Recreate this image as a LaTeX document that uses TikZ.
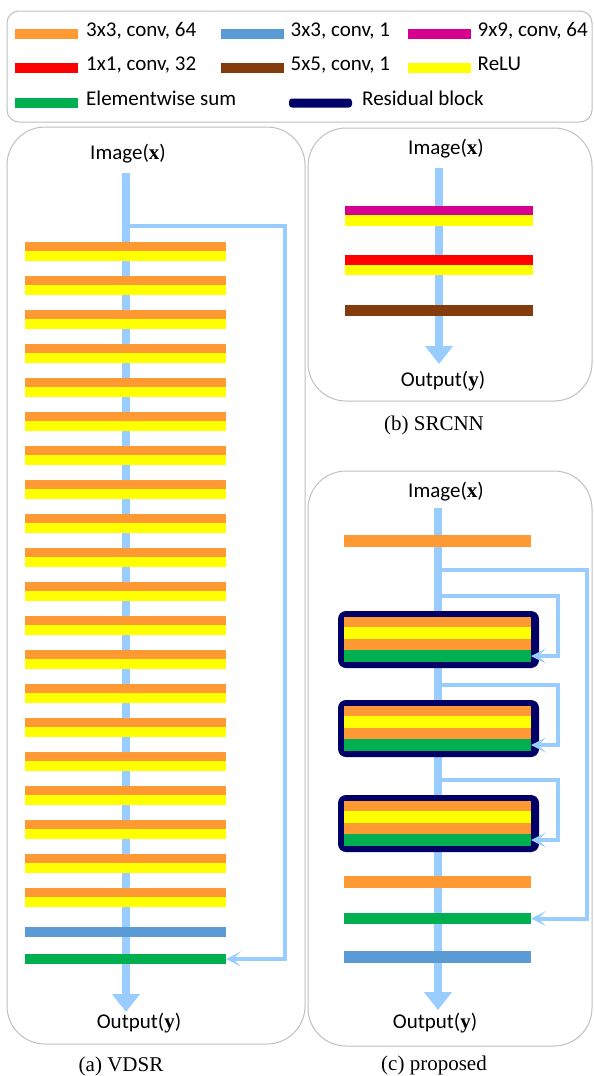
\documentclass[tikz,border=0pt]{standalone}
\usepackage{fontspec}
\setmainfont{Liberation Serif}
\newfontfamily\calfont{Carlito}
\usetikzlibrary{arrows.meta}

\definecolor{cThree}{HTML}{FF9933}   % 3x3 conv, 64
\definecolor{cOut}{HTML}{5B9BD5}     % 3x3 conv, 1
\definecolor{cNine}{HTML}{D5008F}    % 9x9 conv, 64
\definecolor{cOne}{HTML}{FF0000}     % 1x1 conv, 32
\definecolor{cFive}{HTML}{843C0C}    % 5x5 conv, 1
\definecolor{cRelu}{HTML}{FFFF00}    % ReLU
\definecolor{cSum}{HTML}{00B050}     % elementwise sum
\definecolor{cBlock}{HTML}{000066}   % residual block
\definecolor{flow}{HTML}{99CCFF}     % data flow
\definecolor{rim}{HTML}{BFBFBF}

\tikzset{
  frame/.style={draw=rim, line width=1pt},
  layer/.style={rectangle, draw=none, inner sep=0pt, outer sep=0pt, anchor=north west},
  swatch/.style={rectangle, draw=none, inner sep=0pt, outer sep=0pt, minimum width=63pt, minimum height=10pt},
  key/.style={inner sep=0pt, anchor=mid west, font=\calfont\fontsize{21}{25}\selectfont},
  lbl/.style={inner sep=0pt, font=\calfont\fontsize{21}{25}\selectfont},
  subcap/.style={inner sep=0pt, font=\fontsize{21}{25}\selectfont},
  trunk/.style={draw=flow, line width=8pt, -{Triangle[length=18pt,width=27pt]}},
  bypass/.style={draw=flow, line width=4pt, -{Stealth[length=15pt,width=15pt,inset=8pt]}},
  blockbox/.style={rectangle, fill=cBlock, rounded corners=8pt, inner sep=0pt, outer sep=0pt,
    anchor=north west, minimum width=201pt, minimum height=57pt},
}

\begin{document}
\begin{tikzpicture}[x=1pt, y=-1pt]
\useasboundingbox (0,0) rectangle (594,1076);

% ---------------- legend ----------------
\draw[frame, rounded corners=12pt] (7,11) rectangle (592,122);
\node[swatch, fill=cThree] (k1) at (46.5,34) {};
\node[key] (t1) at ([xshift=8pt]k1.east) {3x3, conv, 64};
\node[swatch, fill=cOut] (k2) at (252,34) {};
\node[key] (t2) at ([xshift=7pt]k2.east) {3x3, conv, 1};
\node[swatch, fill=cNine] (k3) at (439,34) {};
\node[key] (t3) at ([xshift=7pt]k3.east) {9x9, conv, 64};
\node[swatch, fill=cOne] (k4) at (46.5,68) {};
\node[key] (t4) at ([xshift=8pt]k4.east) {1x1, conv, 32};
\node[swatch, fill=cFive] (k5) at (252,68) {};
\node[key] (t5) at ([xshift=7pt]k5.east) {5x5, conv, 1};
\node[swatch, fill=cRelu] (k6) at (439,68) {};
\node[key] (t6) at ([xshift=7pt]k6.east) {ReLU};
\node[swatch, fill=cSum] (k7) at (46.5,103) {};
\node[key] (t7) at ([xshift=8pt]k7.east) {Elementwise sum};
\node[swatch, fill=cBlock, rounded corners=3pt, minimum height=9pt] (k8) at (320.5,103) {};
\node[key] (t8) at ([xshift=10pt]k8.east) {Residual block};

% ---------------- (a) VDSR ----------------
\draw[frame, rounded corners=38pt] (7,127) rectangle (305,1044);
\node[lbl] (inA) at (128,154) {Image(\textbf{\rmfamily x})};
\node[lbl] (outA) at (139,1023) {Output(\textbf{\rmfamily y})};
\node[subcap] (capA) at (121,1066) {(a) VDSR};
\coordinate (srcA) at (126,173);
\coordinate (dstA) at (126,1012);
\coordinate (tapA) at (126,226);
\draw[trunk] (srcA) -- (dstA);
\foreach \k in {1,...,20} {
  \node[layer, fill=cThree, minimum width=201pt, minimum height=9pt] (convA\k) at (25,{242+34*(\k-1)}) {};
  \node[layer, fill=cRelu, minimum width=201pt, minimum height=10pt] (reluA\k) at (25,{251+34*(\k-1)}) {};
}
\node[layer, fill=cOut, minimum width=201pt, minimum height=10pt] (lastA) at (25,927) {};
\node[layer, fill=cSum, minimum width=201pt, minimum height=10pt] (sumA) at (25,954) {};
\draw[bypass] (tapA) -| ([xshift=59pt]sumA.east) -- (sumA.east);

% ---------------- (b) SRCNN ----------------
\draw[frame, rounded corners=38pt] (308,128) rectangle (592,401);
\node[lbl] (inB) at (446,149) {Image(\textbf{\rmfamily x})};
\node[lbl] (outB) at (443,381) {Output(\textbf{\rmfamily y})};
\node[subcap] (capB) at (434,425) {(b) SRCNN};
\coordinate (srcB) at (439,168);
\coordinate (dstB) at (439,364);
\draw[trunk] (srcB) -- (dstB);
\node[layer, fill=cNine, minimum width=188pt, minimum height=9pt] (c1B) at (345,206) {};
\node[layer, fill=cRelu, minimum width=188pt, minimum height=11pt] (r1B) at (345,215) {};
\node[layer, fill=cOne, minimum width=188pt, minimum height=10pt] (c2B) at (345,255) {};
\node[layer, fill=cRelu, minimum width=188pt, minimum height=10pt] (r2B) at (345,265) {};
\node[layer, fill=cFive, minimum width=188pt, minimum height=11pt] (c3B) at (345,305) {};

% ---------------- (c) proposed ----------------
\draw[frame, rounded corners=38pt] (308,471) rectangle (592,1046);
\node[lbl] (inC) at (446,492) {Image(\textbf{\rmfamily x})};
\node[lbl] (outC) at (435,1023) {Output(\textbf{\rmfamily y})};
\node[subcap] (capC) at (434,1065) {(c) proposed};
\coordinate (srcC) at (438,508);
\coordinate (dstC) at (438,1010);
\draw[trunk] (srcC) -- (dstC);
\node[layer, fill=cThree, minimum width=187pt, minimum height=12pt] (headC) at (344,535) {};
\foreach \i/\t in {1/611, 2/700, 3/795} {
  \node[blockbox] (blk\i) at (338,\t) {};
  \node[layer, fill=cThree, minimum width=187pt, minimum height=10pt] (res\i-conva) at (344,\t+6) {};
  \node[layer, fill=cRelu, minimum width=187pt, minimum height=12pt] (res\i-relu) at (344,\t+16) {};
  \node[layer, fill=cThree, minimum width=187pt, minimum height=11pt] (res\i-convb) at (344,\t+28) {};
  \node[layer, fill=cSum, minimum width=187pt, minimum height=12pt] (res\i-sum) at (344,\t+39) {};
  \coordinate (tap\i) at (438,\t-15);
  \draw[bypass] (tap\i) -| ([xshift=27pt]res\i-sum.east) -- (res\i-sum.east);
}
\node[layer, fill=cThree, minimum width=187pt, minimum height=12pt] (tailC) at (344,876) {};
\node[layer, fill=cSum, minimum width=187pt, minimum height=11pt] (sumC) at (344,913) {};
\node[layer, fill=cOut, minimum width=187pt, minimum height=12pt] (lastC) at (344,951) {};
\coordinate (tapC) at (438,570);
\draw[bypass] (tapC) -| ([xshift=56pt]sumC.east) -- (sumC.east);
\end{tikzpicture}
\end{document}
